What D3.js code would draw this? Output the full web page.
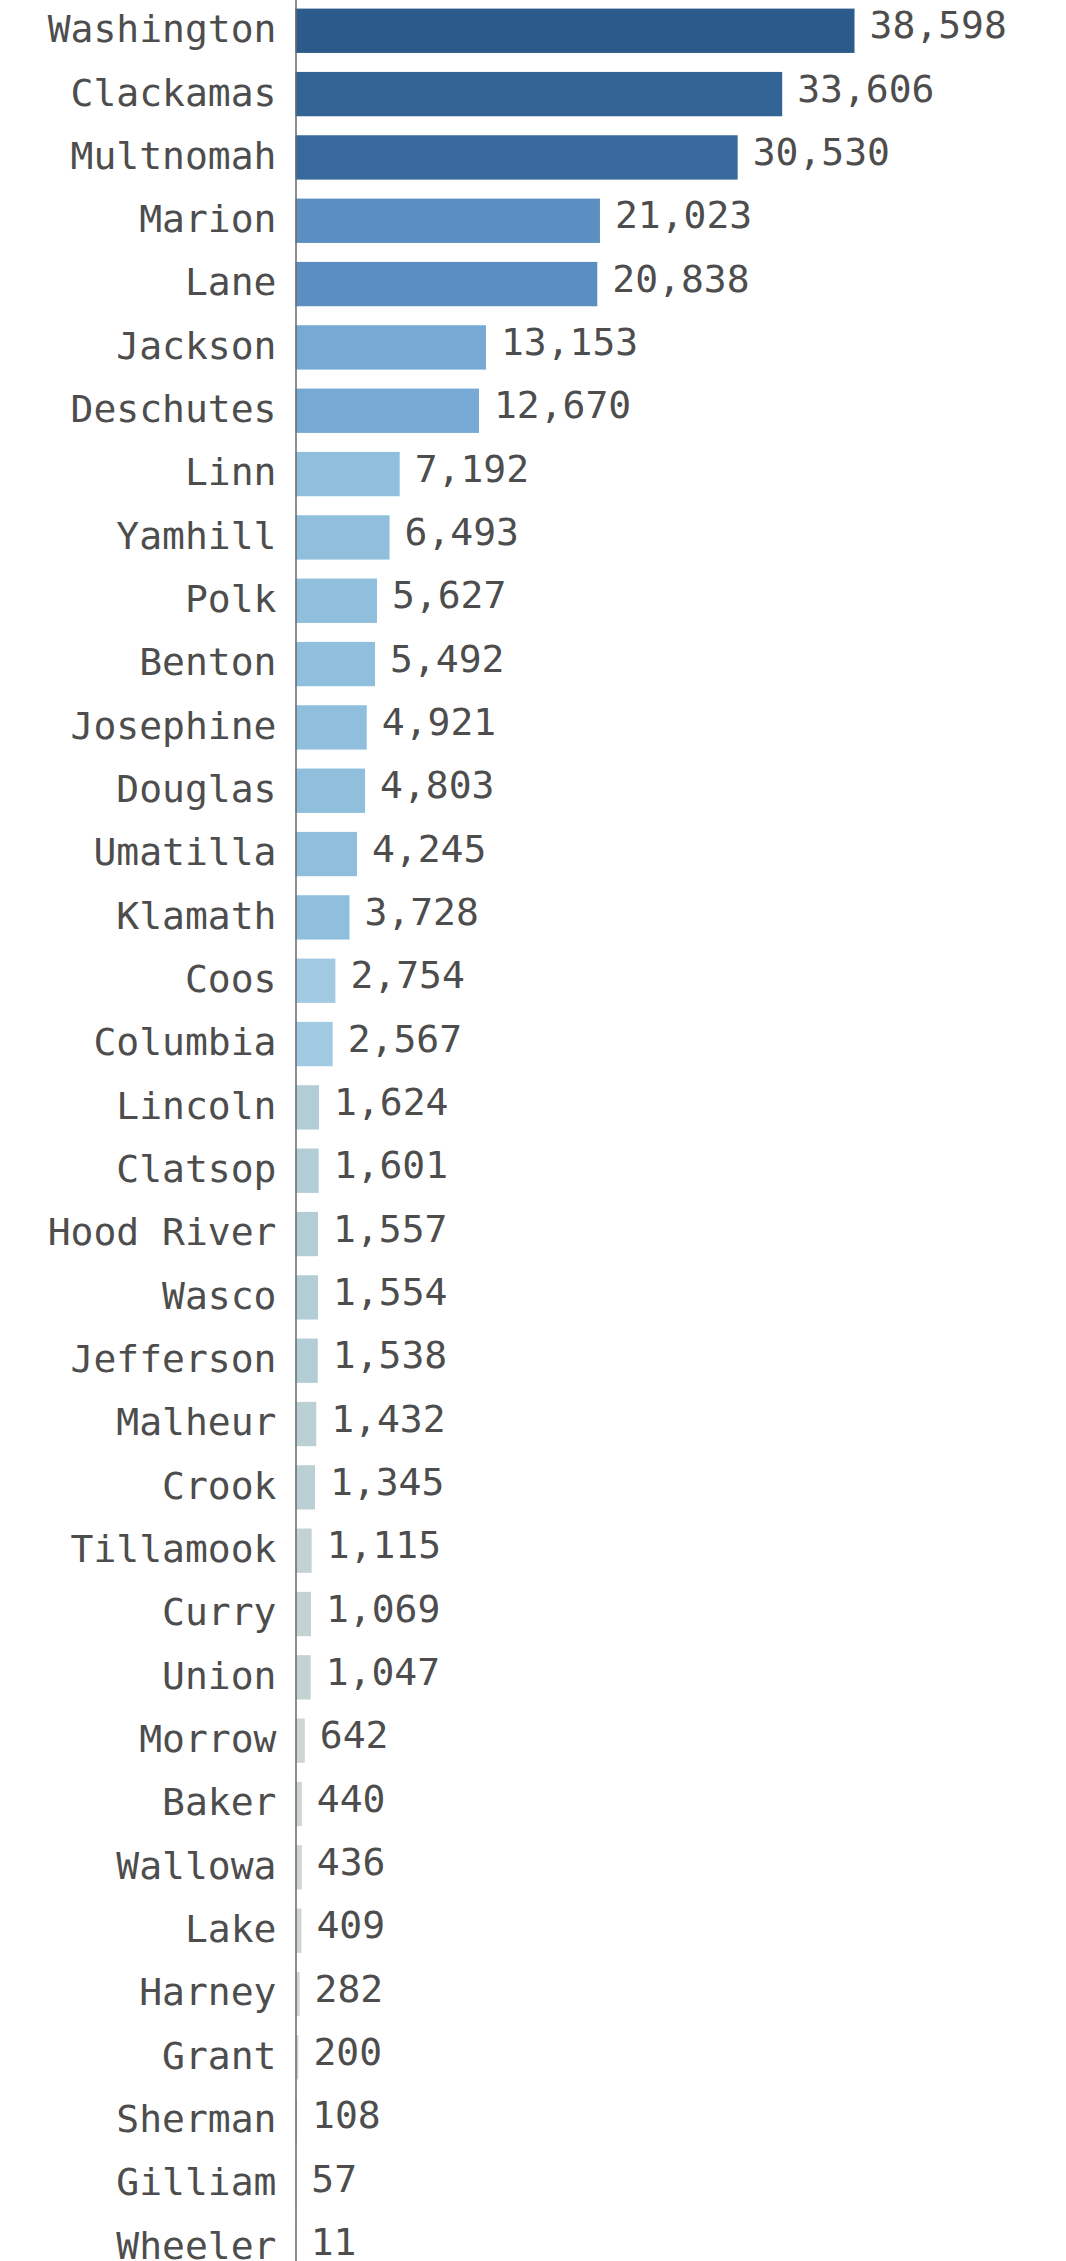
<!DOCTYPE html>
<html>
<head>
<meta charset="utf-8">
<script src="https://cdn.jsdelivr.net/npm/d3@7"></script>
<style>
  html, body { margin: 0; padding: 0; background: #ffffff; }
  svg { display: block; }
  text { font-family: "DejaVu Sans Mono", monospace; }
</style>
</head>
<body>
<svg id="chart" width="1066" height="2261"></svg>
<script>
const counties = ["Washington","Clackamas","Multnomah","Marion","Lane","Jackson","Deschutes","Linn","Yamhill","Polk","Benton","Josephine","Douglas","Umatilla","Klamath","Coos","Columbia","Lincoln","Clatsop","Hood River","Wasco","Jefferson","Malheur","Crook","Tillamook","Curry","Union","Morrow","Baker","Wallowa","Lake","Harney","Grant","Sherman","Gilliam","Wheeler"];
const values = [38598,33606,30530,21023,20838,13153,12670,7192,6493,5627,5492,4921,4803,4245,3728,2754,2567,1624,1601,1557,1554,1538,1432,1345,1115,1069,1047,642,440,436,409,282,200,108,57,11];
const colorThresholds = [1000,1200,1500,2000,3000,8000,15000,25000,32000,35000];
const colorSteps = ["#d0d4d4","#c3d3d4","#bad0d5","#b3cdd6","#a2cae2","#8fbfdd","#76a9d3","#5b8fc1","#37689e","#336496","#2b5a8b"];

const data = counties.map((c, i) => ({ county: c, value: values[i] }));

const svg = d3.select("#chart");
const left = 295.5;

const y = d3.scaleBand()
  .domain(counties)
  .range([-10.4, 2288.5])
  .paddingInner(0.3)
  .paddingOuter(0.3);

const x = d3.scaleLinear()
  .domain([0, d3.max(values)])
  .range([left, left + 559]);

const color = d3.scaleThreshold().domain(colorThresholds).range(colorSteps);
const fmt = d3.format(",");

svg.append("g")
  .selectAll("rect")
  .data(data)
  .join("rect")
  .attr("x", x(0))
  .attr("y", d => y(d.county))
  .attr("width", d => x(d.value) - x(0))
  .attr("height", y.bandwidth())
  .attr("fill", d => color(d.value));

const axis = svg.append("g")
  .attr("transform", `translate(${left},0)`)
  .call(d3.axisLeft(y).tickSize(0).tickSizeOuter(0).tickPadding(19));
axis.select(".domain").attr("stroke", "#6a6a6a").attr("stroke-width", 1.5);
axis.selectAll(".tick text")
  .attr("font-family", "DejaVu Sans Mono, monospace")
  .attr("font-size", 38)
  .attr("fill", "#4d4d4d")
  .attr("dy", "0.3em");

svg.append("g")
  .selectAll("text")
  .data(data)
  .join("text")
  .attr("x", d => x(d.value) + 15)
  .attr("y", d => y(d.county) + y.bandwidth() / 2)
  .attr("dy", "0.2em")
  .attr("font-size", 38)
  .attr("fill", "#4d4d4d")
  .text(d => fmt(d.value));
</script>
</body>
</html>
